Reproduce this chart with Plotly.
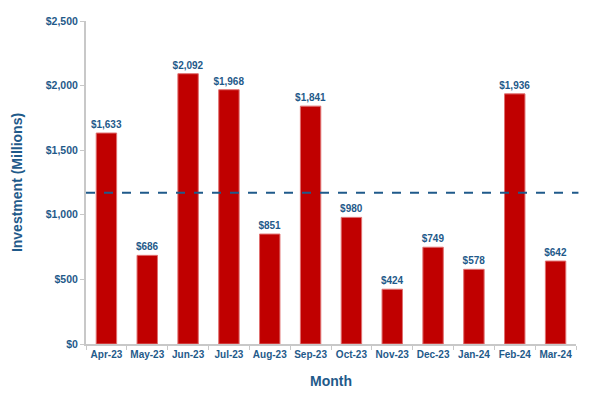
import plotly.graph_objects as go

months = ["Apr-23", "May-23", "Jun-23", "Jul-23", "Aug-23", "Sep-23",
          "Oct-23", "Nov-23", "Dec-23", "Jan-24", "Feb-24", "Mar-24"]
investment = [1633, 686, 2092, 1968, 851, 1841, 980, 424, 749, 578, 1936, 642]
reference_line = 1170
y_ticks = [0, 500, 1000, 1500, 2000, 2500]
y_tick_labels = ["$0", "$500", "$1,000", "$1,500", "$2,000", "$2,500"]

blue = "#1F5A8A"
font_fam = "Liberation Sans, Arial, sans-serif"

fig = go.Figure()
fig.add_trace(go.Bar(
    x=months, y=investment,
    marker=dict(color="#C00000", line=dict(color="#E07070", width=1)),
    width=0.5,
    text=[f"${v:,}" for v in investment],
    textposition="outside",
    constraintext="none",
    textfont=dict(family=font_fam, size=10, color=blue, weight="bold"),
    cliponaxis=False,
))
fig.add_shape(type="line", xref="paper", yref="y", x0=0, x1=1.005,
              y0=reference_line, y1=reference_line,
              line=dict(color="#1F5A8A", width=2, dash="dash"))

fig.update_layout(
    width=603, height=408,
    margin=dict(l=86, r=27, t=21, b=64),
    plot_bgcolor="white", paper_bgcolor="white",
    showlegend=False,
    font=dict(family=font_fam, color=blue),
    xaxis=dict(
        title=dict(text="Month", font=dict(size=14, color=blue, weight="bold"), standoff=17),
        tickfont=dict(size=10, color=blue, weight="bold"),
        tickangle=0,
        showline=True, linecolor="#C8C8C8", linewidth=2,
        ticks="outside", tickson="boundaries", tickcolor="#C8C8C8", ticklen=4,
        showgrid=False,
    ),
    yaxis=dict(
        title=dict(text="Investment (Millions)", font=dict(size=14, color=blue, weight="bold"), standoff=20),
        tickvals=y_ticks, ticktext=y_tick_labels,
        tickfont=dict(size=10.5, color=blue, weight="bold"),
        range=[0, 2500],
        showline=True, linecolor="#C8C8C8", linewidth=2,
        ticks="outside", tickcolor="#C8C8C8", ticklen=4,
        showgrid=False, zeroline=False,
    ),
)

fig.write_html("out.html")
